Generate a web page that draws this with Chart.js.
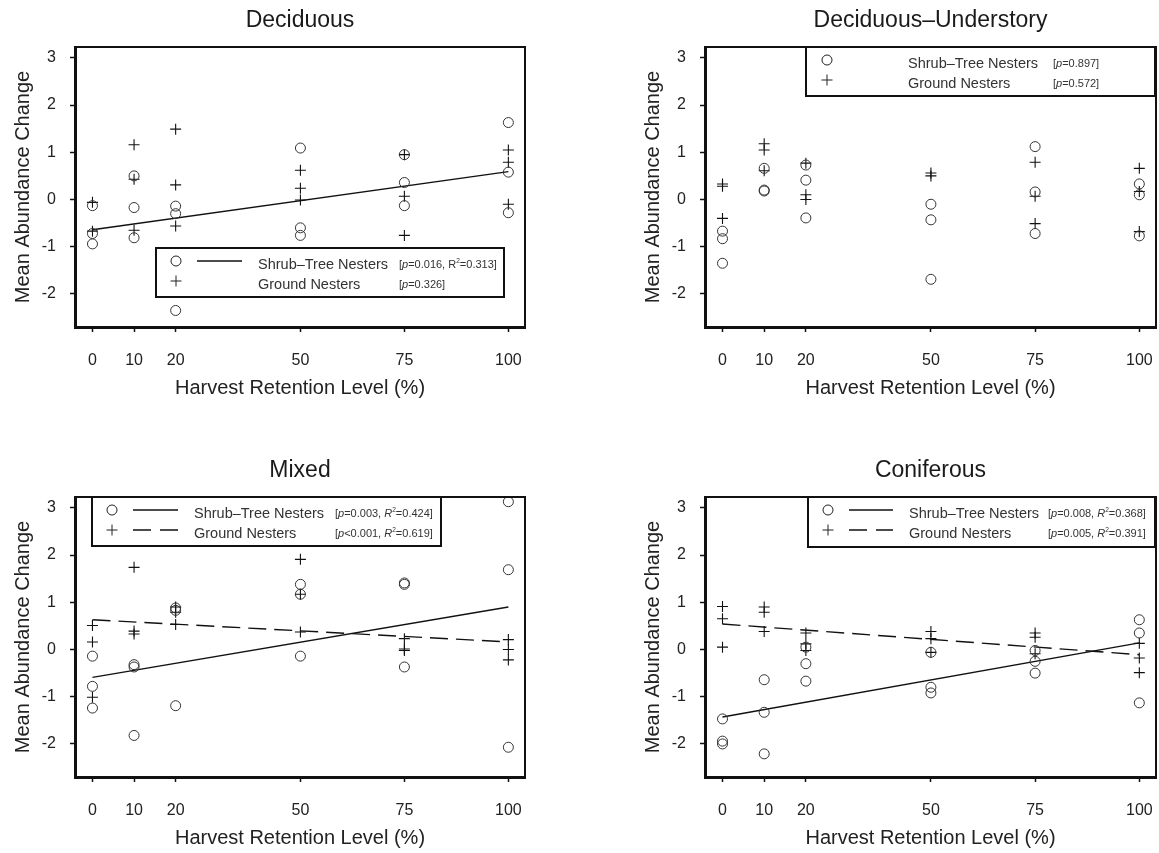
<!DOCTYPE html>
<html>
<head>
<meta charset="utf-8">
<title>Mean abundance change by harvest retention level</title>
<script src="https://cdn.jsdelivr.net/npm/chart.js@4.4.1/dist/chart.umd.min.js"></script>
<style>
  body { margin: 0; background: #fff; overflow: hidden; }
  .panel { position: absolute; }
</style>
</head>
<body>
<canvas id="deciduous" class="panel" width="540" height="400" style="left:0;top:0"></canvas>
<canvas id="understory" class="panel" width="529" height="400" style="left:630px;top:0"></canvas>
<canvas id="mixed" class="panel" width="540" height="400" style="left:0;top:450px"></canvas>
<canvas id="coniferous" class="panel" width="529" height="400" style="left:630px;top:450px"></canvas>
<script>
const xTicks = [0, 10, 20, 50, 75, 100];
const yTicks = [-2, -1, 0, 1, 2, 3];
const fitX = [0, 100];

// Deciduous
const decShrubX = [0, 0, 0, 10, 10, 10, 20, 20, 20, 50, 50, 50, 75, 75, 75, 100, 100, 100];
const decShrubY = [-0.13, -0.72, -0.94, 0.5, -0.17, -0.81, -0.14, -0.3, -2.35, 1.09, -0.6, -0.76, 0.95, 0.36, -0.13, 1.63, 0.58, -0.28];
const decGroundX = [0, 0, 10, 10, 10, 20, 20, 20, 50, 50, 50, 75, 75, 75, 100, 100, 100];
const decGroundY = [-0.06, -0.67, 1.16, 0.43, -0.65, 1.49, 0.31, -0.56, 0.62, 0.24, -0.01, 0.95, 0.07, -0.76, 1.05, 0.79, -0.1];
const decShrubFit = [-0.64, 0.59];

// Deciduous-Understory
const undShrubX = [0, 0, 0, 10, 10, 10, 20, 20, 20, 50, 50, 50, 75, 75, 75, 100, 100, 100];
const undShrubY = [-0.67, -0.83, -1.35, 0.66, 0.2, 0.18, 0.73, 0.41, -0.39, -0.1, -0.43, -1.69, 1.12, 0.16, -0.72, 0.33, 0.1, -0.77];
const undGroundX = [0, 0, 0, 10, 10, 10, 20, 20, 20, 50, 50, 75, 75, 75, 100, 100, 100];
const undGroundY = [0.33, 0.28, -0.4, 1.18, 1.05, 0.61, 0.77, 0.1, 0.0, 0.56, 0.5, 0.79, 0.07, -0.51, 0.66, 0.17, -0.68];

// Mixed
const mixShrubX = [0, 0, 0, 10, 10, 10, 20, 20, 20, 50, 50, 50, 75, 75, 75, 100, 100, 100];
const mixShrubY = [-0.14, -0.78, -1.24, -0.32, -0.37, -1.82, 0.88, 0.83, -1.19, 1.38, 1.17, -0.14, 1.41, 1.38, -0.37, 3.13, 1.69, -2.07];
const mixGroundX = [0, 0, 0, 10, 10, 10, 20, 20, 20, 50, 50, 50, 75, 75, 75, 100, 100, 100];
const mixGroundY = [0.51, 0.16, -1.01, 1.74, 0.39, 0.33, 0.9, 0.79, 0.53, 1.91, 1.17, 0.37, 0.23, 0.01, -0.02, 0.21, 0.0, -0.22];
const mixShrubFit = [-0.59, 0.9];
const mixGroundFit = [0.63, 0.16];

// Coniferous
const conShrubX = [0, 0, 0, 10, 10, 10, 20, 20, 20, 50, 50, 50, 75, 75, 75, 100, 100, 100];
const conShrubY = [-1.47, -1.94, -2.0, -0.64, -1.33, -2.21, 0.05, -0.3, -0.67, -0.06, -0.8, -0.92, -0.02, -0.25, -0.5, 0.63, 0.35, -1.13];
const conGroundX = [0, 0, 0, 10, 10, 10, 20, 20, 20, 50, 50, 50, 75, 75, 75, 100, 100, 100];
const conGroundY = [0.91, 0.65, 0.05, 0.9, 0.79, 0.38, 0.35, 0.12, -0.02, 0.38, 0.23, -0.06, 0.35, 0.26, -0.09, 0.13, -0.18, -0.49];
const conShrubFit = [-1.43, 0.14];
const conGroundFit = [0.54, -0.11];

const FONT = "'Liberation Sans', Arial, Helvetica, sans-serif";
const INK = "#1a1a1a";
Chart.defaults.font.family = FONT;
Chart.defaults.color = INK;

function toPoints(xs, ys) {
  return xs.map((x, i) => ({ x: x, y: ys[i] }));
}

function shrubSet(xs, ys) {
  return {
    data: toPoints(xs, ys),
    pointStyle: "circle",
    pointRadius: 5,
    pointBorderWidth: 1,
    borderColor: "#333",
    backgroundColor: "rgba(0,0,0,0)",
  };
}

function groundSet(xs, ys) {
  return {
    data: toPoints(xs, ys),
    pointStyle: "cross",
    pointRadius: 5.5,
    pointBorderWidth: 1.1,
    borderColor: "#111",
    backgroundColor: "rgba(0,0,0,0)",
  };
}

function fitSet(ys, dashed) {
  return {
    type: "line",
    data: toPoints(fitX, ys),
    showLine: true,
    pointRadius: 0,
    borderColor: "#111",
    borderWidth: 1.4,
    borderDash: dashed ? [18, 8] : [],
    fill: false,
  };
}

// draws text runs (italic / superscript) one after another
function drawRich(ctx, x, y, segs, size) {
  segs.forEach((s) => {
    const fs = s.sup ? size * 0.6 : size;
    ctx.font = (s.it ? "italic " : "") + fs + "px " + FONT;
    ctx.fillText(s.t, x, s.sup ? y - size * 0.38 : y);
    x += ctx.measureText(s.t).width;
  });
}

const panelDecor = {
  id: "panelDecor",
  afterDraw(chart, args, opts) {
    const { ctx, chartArea: a } = chart;
    ctx.save();
    // frame round the plot
    ctx.strokeStyle = "#111";
    ctx.lineWidth = 2;
    ctx.strokeRect(a.left, a.top, a.right - a.left, a.bottom - a.top);

    // panel title
    ctx.fillStyle = INK;
    ctx.font = "23px " + FONT;
    ctx.textAlign = "center";
    ctx.textBaseline = "middle";
    ctx.fillText(opts.title, (a.left + a.right) / 2, a.top - 26);

    // legend
    const L = opts.legend;
    ctx.lineWidth = 2;
    ctx.strokeStyle = "#111";
    ctx.fillStyle = "#fff";
    ctx.fillRect(L.box[0], L.box[1], L.box[2] - L.box[0], L.box[3] - L.box[1]);
    ctx.strokeRect(L.box[0], L.box[1], L.box[2] - L.box[0], L.box[3] - L.box[1]);
    ctx.textAlign = "left";
    L.rows.forEach((r, i) => {
      const ty = L.rowY[i];
      const my = ty - 4;
      ctx.strokeStyle = "#222";
      ctx.lineWidth = 1;
      ctx.setLineDash([]);
      ctx.beginPath();
      if (r.marker === "circle") {
        ctx.arc(L.markerX, my, 5, 0, Math.PI * 2);
      } else {
        ctx.moveTo(L.markerX - 5.5, my);
        ctx.lineTo(L.markerX + 5.5, my);
        ctx.moveTo(L.markerX, my - 5.5);
        ctx.lineTo(L.markerX, my + 5.5);
      }
      ctx.stroke();
      if (r.line) {
        ctx.lineWidth = 1.6;
        ctx.strokeStyle = "#111";
        ctx.setLineDash(r.line === "dashed" ? [18, 9] : []);
        ctx.beginPath();
        ctx.moveTo(L.lineX[0], my);
        ctx.lineTo(L.lineX[1], my);
        ctx.stroke();
        ctx.setLineDash([]);
      }
      ctx.fillStyle = "#333";
      ctx.font = "14.5px " + FONT;
      ctx.fillText(r.label, L.textX, ty);
      drawRich(ctx, L.statsX, ty, r.stats, 11);
    });
    ctx.restore();
  },
};

function makePanel(id, datasets, title, legend, padRight) {
  new Chart(document.getElementById(id), {
    type: "scatter",
    data: { datasets: datasets },
    options: {
      responsive: false,
      animation: false,
      devicePixelRatio: 1,
      layout: { autoPadding: false, padding: { top: 47, right: padRight, left: 0, bottom: 0 } },
      plugins: {
        legend: { display: false },
        tooltip: { enabled: false },
        panelDecor: { title: title, legend: legend },
      },
      scales: {
        x: {
          type: "linear",
          min: -4.2,
          max: 104,
          afterBuildTicks: (s) => {
            s.ticks = xTicks.map((v) => ({ value: v }));
          },
          afterFit: (s) => {
            s.height = 73;
            s.paddingLeft = 0;
            s.paddingRight = 0;
          },
          ticks: { font: { size: 16 }, color: "#222", padding: 19, maxRotation: 0 },
          grid: { drawOnChartArea: false, tickLength: 5, tickWidth: 1.5, tickColor: "#111" },
          border: { display: true, color: "#111", width: 3 },
          title: {
            display: true,
            text: "Harvest Retention Level (%)",
            font: { size: 20 },
            color: "#222",
            padding: { top: 0, bottom: 0 },
          },
        },
        y: {
          type: "linear",
          min: -2.7,
          max: 3.23,
          afterBuildTicks: (s) => {
            s.ticks = yTicks.map((v) => ({ value: v }));
          },
          afterFit: (s) => {
            s.width = 75;
            s.paddingTop = 0;
            s.paddingBottom = 0;
          },
          ticks: { font: { size: 16 }, color: "#222", padding: 14 },
          grid: { drawOnChartArea: false, tickLength: 5, tickWidth: 1.5, tickColor: "#111" },
          border: { display: true, color: "#111", width: 3 },
          title: {
            display: true,
            text: "Mean Abundance Change",
            font: { size: 20 },
            color: "#222",
            padding: { top: 11, bottom: 0 },
          },
        },
      },
    },
    plugins: [panelDecor],
  });
}

function initPanels() {
  makePanel(
    "deciduous",
    [shrubSet(decShrubX, decShrubY), groundSet(decGroundX, decGroundY), fitSet(decShrubFit, false)],
    "Deciduous",
    {
      box: [156, 248, 504, 297],
      markerX: 176,
      lineX: [197, 242],
      textX: 258,
      statsX: 399,
      rowY: [265, 285],
      rows: [
        { marker: "circle", line: "solid", label: "Shrub\u2013Tree Nesters",
          stats: [{ t: "[" }, { t: "p", it: true }, { t: "=0.016, R" }, { t: "2", sup: true }, { t: "=0.313]" }] },
        { marker: "plus", line: null, label: "Ground Nesters",
          stats: [{ t: "[" }, { t: "p", it: true }, { t: "=0.326]" }] },
      ],
    },
    15,
  );

  makePanel(
    "understory",
    [shrubSet(undShrubX, undShrubY), groundSet(undGroundX, undGroundY)],
    "Deciduous\u2013Understory",
    {
      box: [176, 47, 525, 96],
      markerX: 197,
      lineX: null,
      textX: 278,
      statsX: 423,
      rowY: [64, 84],
      rows: [
        { marker: "circle", line: null, label: "Shrub\u2013Tree Nesters",
          stats: [{ t: "[" }, { t: "p", it: true }, { t: "=0.897]" }] },
        { marker: "plus", line: null, label: "Ground Nesters",
          stats: [{ t: "[" }, { t: "p", it: true }, { t: "=0.572]" }] },
      ],
    },
    3,
  );

  makePanel(
    "mixed",
    [
      shrubSet(mixShrubX, mixShrubY),
      groundSet(mixGroundX, mixGroundY),
      fitSet(mixShrubFit, false),
      fitSet(mixGroundFit, true),
    ],
    "Mixed",
    {
      box: [92, 47, 441, 96],
      markerX: 112,
      lineX: [133, 178],
      textX: 194,
      statsX: 335,
      rowY: [64, 84],
      rows: [
        { marker: "circle", line: "solid", label: "Shrub\u2013Tree Nesters",
          stats: [{ t: "[" }, { t: "p", it: true }, { t: "=0.003, " }, { t: "R", it: true }, { t: "2", sup: true }, { t: "=0.424]" }] },
        { marker: "plus", line: "dashed", label: "Ground Nesters",
          stats: [{ t: "[" }, { t: "p", it: true }, { t: "<0.001, " }, { t: "R", it: true }, { t: "2", sup: true }, { t: "=0.619]" }] },
      ],
    },
    15,
  );

  makePanel(
    "coniferous",
    [
      shrubSet(conShrubX, conShrubY),
      groundSet(conGroundX, conGroundY),
      fitSet(conShrubFit, false),
      fitSet(conGroundFit, true),
    ],
    "Coniferous",
    {
      box: [178, 47, 525, 97],
      markerX: 198,
      lineX: [219, 263],
      textX: 279,
      statsX: 418,
      rowY: [64, 84],
      rows: [
        { marker: "circle", line: "solid", label: "Shrub\u2013Tree Nesters",
          stats: [{ t: "[" }, { t: "p", it: true }, { t: "=0.008, " }, { t: "R", it: true }, { t: "2", sup: true }, { t: "=0.368]" }] },
        { marker: "plus", line: "dashed", label: "Ground Nesters",
          stats: [{ t: "[" }, { t: "p", it: true }, { t: "=0.005, " }, { t: "R", it: true }, { t: "2", sup: true }, { t: "=0.391]" }] },
      ],
    },
    3,
  );
}

document.addEventListener("DOMContentLoaded", initPanels);
</script>
</body>
</html>
